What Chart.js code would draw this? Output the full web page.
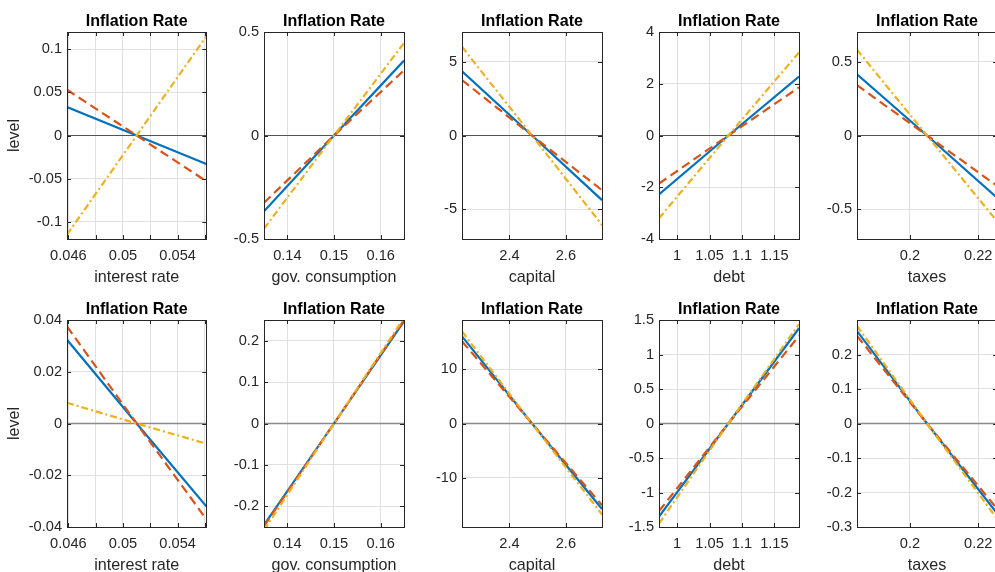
<!DOCTYPE html>
<html>
<head>
<meta charset="utf-8">
<script src="https://cdn.jsdelivr.net/npm/chart.js@4/dist/chart.umd.min.js"></script>
<style>
  html, body { margin: 0; padding: 0; background: #fff; overflow: hidden; width: 995px; height: 572px; position: relative; }
  canvas { position: absolute; }
</style>
</head>
<body>
<script>
// Steady-state variables on the horizontal axes
const variableNames = ['interest rate', 'gov. consumption', 'capital', 'debt', 'taxes'];
const xRanges = [[0.0459, 0.0561], [0.135, 0.165], [2.232, 2.728], [0.972, 1.188], [0.1845, 0.2255]];
const xCenters = [0.051, 0.150, 2.480, 1.079, 0.205];
const xTicks = [[0.046, 0.048, 0.05, 0.052, 0.054, 0.056], [0.14, 0.15, 0.16], [2.4, 2.6], [1, 1.05, 1.1, 1.15], [0.2, 0.22]];
const xTickLabels = [['0.046', '', '0.05', '', '0.054', ''], ['0.14', '0.15', '0.16'], ['2.4', '2.6'], ['1', '1.05', '1.1', '1.15'], ['0.2', '0.22']];

// Top row: inflation response at left edge, centre, right edge of each range
const topRanges = [[-0.12, 0.12], [-0.5, 0.5], [-7, 7], [-4, 4], [-0.7, 0.7]];
const topTicks = [[-0.1, -0.05, 0, 0.05, 0.1], [-0.5, 0, 0.5], [-5, 0, 5], [-4, -2, 0, 2, 4], [-0.5, 0, 0.5]];
const topSolid = [[0.033, 0, -0.033], [-0.366, 0, 0.362], [4.34, 0, -4.37], [-2.28, 0, 2.28], [0.414, 0, -0.42]];
const topDashed = [[0.053, 0, -0.053], [-0.325, 0, 0.315], [3.75, 0, -3.7], [-1.86, 0, 1.86], [0.34, 0, -0.34]];
const topDashDot = [[-0.115, 0, 0.115], [-0.45, 0, 0.447], [6.0, 0, -6.05], [-3.2, 0, 3.21], [0.58, 0, -0.58]];

// Bottom row
const bottomRanges = [[-0.04, 0.04], [-0.25, 0.25], [-19, 19], [-1.5, 1.5], [-0.3, 0.3]];
const bottomTicks = [[-0.04, -0.02, 0, 0.02, 0.04], [-0.2, -0.1, 0, 0.1, 0.2], [-10, 0, 10], [-1.5, -1, -0.5, 0, 0.5, 1, 1.5], [-0.3, -0.2, -0.1, 0, 0.1, 0.2]];
const bottomSolid = [[0.0324, 0, -0.032], [-0.245, 0, 0.247], [16.0, 0, -15.7], [-1.35, 0, 1.38], [0.268, 0, -0.26]];
const bottomDashed = [[0.0375, 0, -0.037], [-0.248, 0, 0.25], [15.1, 0, -15.0], [-1.27, 0, 1.27], [0.254, 0, -0.247]];
const bottomDashDot = [[0.008, 0, -0.0078], [-0.258, 0, 0.255], [16.9, 0, -16.7], [-1.45, 0, 1.44], [0.283, 0, -0.276]];

const panelTitle = 'Inflation Rate';
const yAxisLabel = 'level';

// Layout of the 2 x 5 grid of axes (plot area in page pixels)
const COL_LEFT = [67, 264, 462, 659, 857];
const ROW_TOP = [32, 320];
const PLOT_W = 140, PLOT_H = 207;
const PAD_L = 66, PAD_T = 34, PAD_B = 52, PAD_R = 6;
const FONT = '"Liberation Sans", Arial, Helvetica, sans-serif';
const TEXT = '#262626';

// Axes box, inward tick marks and bold title
const axesDecor = {
  id: 'axesDecor',
  afterDatasetsDraw(chart) {
    const { ctx, chartArea: a, scales } = chart;
    ctx.save();
    ctx.strokeStyle = TEXT;
    ctx.lineWidth = 1;
    ctx.beginPath();
    const tl = 4;
    scales.x.ticks.forEach(t => {
      const px = Math.round(scales.x.getPixelForValue(t.value)) + 0.5;
      ctx.moveTo(px, a.bottom); ctx.lineTo(px, a.bottom - tl);
      ctx.moveTo(px, a.top); ctx.lineTo(px, a.top + tl);
    });
    scales.y.ticks.forEach(t => {
      const py = Math.round(scales.y.getPixelForValue(t.value)) + 0.5;
      ctx.moveTo(a.left, py); ctx.lineTo(a.left + tl, py);
      ctx.moveTo(a.right, py); ctx.lineTo(a.right - tl, py);
    });
    ctx.stroke();
    ctx.strokeRect(Math.round(a.left) + 0.5, Math.round(a.top) + 0.5, Math.round(a.right - a.left), Math.round(a.bottom - a.top));
    ctx.fillStyle = '#000';
    ctx.font = 'bold 16.1px ' + FONT;
    ctx.textAlign = 'center';
    ctx.textBaseline = 'alphabetic';
    ctx.fillText(chart.options.plugins.axesDecor.title, (a.left + a.right) / 2, a.top - 6);
    ctx.restore();
  }
};

function series(col, vals) {
  const xs = [xRanges[col][0], xCenters[col], xRanges[col][1]];
  return xs.map((x, i) => ({ x: x, y: vals[i] }));
}

function makePanel(row, col) {
  const top = ROW_TOP[row];
  const left = COL_LEFT[col];
  const canvas = document.createElement('canvas');
  const w = PLOT_W + PAD_L + PAD_R, h = PLOT_H + PAD_T + PAD_B;
  canvas.width = w; canvas.height = h;
  canvas.style.width = w + 'px'; canvas.style.height = h + 'px';
  canvas.style.left = (left - PAD_L) + 'px';
  canvas.style.top = (top - PAD_T) + 'px';
  document.body.appendChild(canvas);

  const yr = row === 0 ? topRanges[col] : bottomRanges[col];
  const yt = row === 0 ? topTicks[col] : bottomTicks[col];
  const solid = row === 0 ? topSolid[col] : bottomSolid[col];
  const dashed = row === 0 ? topDashed[col] : bottomDashed[col];
  const dashDot = row === 0 ? topDashDot[col] : bottomDashDot[col];
  const zeroColor = row === 0 ? '#555555' : '#8a8a8a';
  const zeroWidth = row === 0 ? 1 : 1.6;

  new Chart(canvas, {
    type: 'line',
    data: {
      datasets: [
        { data: [{ x: xRanges[col][0], y: 0 }, { x: xRanges[col][1], y: 0 }], borderColor: zeroColor, borderWidth: zeroWidth, order: 4 },
        { data: series(col, solid), borderColor: '#0072BD', borderWidth: 2.2, order: 3 },
        { data: series(col, dashed), borderColor: '#D95319', borderWidth: 2.2, borderDash: [9, 5], order: 2 },
        { data: series(col, dashDot), borderColor: '#EDB120', borderWidth: 2.2, borderDash: [7, 3, 2, 3], order: 1 }
      ]
    },
    options: {
      responsive: false,
      animation: false,
      devicePixelRatio: 1,
      layout: { padding: { top: PAD_T, left: 0, right: PAD_R, bottom: 0 } },
      elements: { point: { radius: 0 }, line: { tension: 0, fill: false, borderCapStyle: 'butt' } },
      clip: { left: 0, top: 0, right: 0, bottom: 0 },
      plugins: {
        legend: { display: false },
        tooltip: { enabled: false },
        title: { display: false },
        axesDecor: { title: panelTitle }
      },
      scales: {
        x: {
          type: 'linear',
          min: xRanges[col][0], max: xRanges[col][1],
          afterBuildTicks: s => { s.ticks = xTicks[col].map(v => ({ value: v })); },
          afterFit: s => { s.height = PAD_B; },
          ticks: {
            autoSkip: false, maxRotation: 0, padding: 8,
            color: TEXT, font: { family: FONT, size: 14.6 },
            callback: (v, i) => xTickLabels[col][i]
          },
          grid: { color: '#e0e0e0', lineWidth: 1, drawTicks: false },
          border: { display: false },
          title: { display: true, text: variableNames[col], color: TEXT, font: { family: FONT, size: 16.1 }, padding: { top: 0, bottom: 4 } }
        },
        y: {
          type: 'linear',
          min: yr[0], max: yr[1],
          afterBuildTicks: s => { s.ticks = yt.map(v => ({ value: v })); },
          afterFit: s => { s.width = PAD_L; },
          ticks: {
            autoSkip: false, padding: 5,
            color: TEXT, font: { family: FONT, size: 14.6 },
            callback: v => String(v)
          },
          grid: { color: '#e0e0e0', lineWidth: 1, drawTicks: false },
          border: { display: false },
          title: { display: col === 0, text: yAxisLabel, color: TEXT, font: { family: FONT, size: 16.1 }, padding: { top: 4, bottom: 0 } }
        }
      }
    },
    plugins: [axesDecor]
  });
}

for (let r = 0; r < 2; r++) {
  for (let c = 0; c < 5; c++) makePanel(r, c);
}
</script>
</body>
</html>
